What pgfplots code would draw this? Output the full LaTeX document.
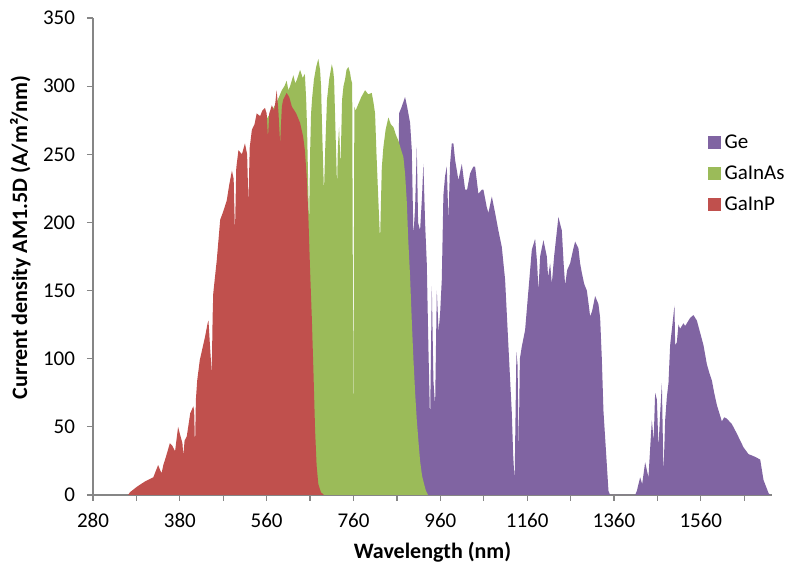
\documentclass[border=0pt]{standalone}
\usepackage{fontspec}
\setmainfont{Carlito}
\usepackage{pgfplots}
\pgfplotsset{compat=1.18}
\definecolor{geC}{HTML}{8064A2}
\definecolor{gaasC}{HTML}{9BBB59}
\definecolor{gapC}{HTML}{C0504D}
\definecolor{axC}{HTML}{868686}
\begin{document}
\begin{tikzpicture}
\path[use as bounding box] (-46.5pt,-35pt) rectangle (348.5pt,247.5pt);
\begin{axis}[
  at={(0pt,0pt)}, anchor=south west,
  scale only axis, width=339.5pt, height=238.5pt,
  xmin=0, xmax=1564, ymin=0, ymax=350,
  axis x line*=bottom, axis y line*=left,
  axis line style={draw=axC, line width=0.6pt, -},
  tick style={draw=axC, line width=0.6pt},
  tick align=outside, major tick length=3pt,
  xtick={0,100,...,1500},
  xticklabels={280,,380,,560,,760,,960,,1160,,1360,,1560,},
  ytick={0,50,...,350},
  /pgf/number format/assume math mode=true,
  ticklabel style={font=\fontsize{10.5}{12}\selectfont, text=black},
  xticklabel style={yshift=-2.5pt},
  yticklabel style={xshift=-2.5pt},
  xlabel={\textbf{Wavelength (nm)}},
  ylabel={\textbf{Current density AM1.5D (A/m²/nm)}},
  label style={font=\fontsize{11}{13}\selectfont},
  xlabel style={at={(axis description cs:0.5,0)}, anchor=center, yshift=-28.5pt},
  ylabel style={at={(axis description cs:-0.107,0.54)}, anchor=center},
  legend style={at={(rel axis cs:0.905,0.765)}, anchor=north west, draw=none, fill=none,
    font=\fontsize{10.5}{12}\selectfont, row sep=3.2pt, inner sep=0pt},
  legend cell align=left,
  legend image code/.code={\fill[#1] (0pt,-3.1pt) rectangle (6.3pt,3.2pt);},
]
\addplot[fill=geC, draw=none] coordinates {
(698,0)(705,280)(711.2,285)(718.8,292)(723.5,285)(730.4,273)(734.3,253)(738,190)(741.9,211)(745.8,255)(748.8,200)(753.4,194)(758,220)(761,243)(764.9,200)(768.8,170)(772.5,109)(776.4,53)(780.4,153)(784.1,84)(788,65)(791.9,150)(796,120)(799.5,133)(803.4,158)(807.1,220)(811,234)(814.9,241)(818.6,202)(822.5,243)(826.4,258)(830.1,258)(834,246)(841.7,231)(849.5,243)(857.1,224)(861.7,224)(868.6,236)(876.2,241)(880.1,241)(887.7,221)(895.6,224)(899.3,224)(907.1,211)(910.8,207)(918.6,219)(926.2,207)(933.8,194)(941.6,182)(949.2,158)(956.9,109)(964.7,60)(967.7,30)(971.1,10)(975.3,105)(978,95)(980.4,31)(983.3,100)(987.7,109)(995.3,121)(1002.9,150)(1010.8,180)(1018.4,188)(1023,170)(1026,150)(1029.9,175)(1037.5,187)(1045.3,175)(1048.3,160)(1052.9,170)(1056.8,155)(1062.1,175)(1072,204)(1079.9,194)(1084,170)(1087.5,154)(1092.1,165)(1099,170)(1105.9,180)(1110.5,186)(1118.1,181)(1122,170)(1126,163)(1131.3,155)(1137.5,150)(1141.6,140)(1145.1,131)(1149.7,135)(1156.6,146)(1164.2,140)(1168.1,130)(1172,100)(1175.7,62)(1182,30)(1187.3,3)(1191.2,0)(1248.8,0)(1252.7,3)(1260.3,13)(1264.9,8)(1271.8,24)(1279.4,13)(1287.2,55)(1291.4,40)(1294.8,75)(1298.8,70)(1302.5,35)(1306.4,60)(1310.3,82)(1314,15)(1317.9,55)(1321.8,72)(1325.5,82)(1329.4,110)(1335.6,128)(1339.3,139)(1340.9,110)(1344.8,112)(1348.5,125)(1352.4,122)(1360,126)(1364,124)(1375.5,130)(1383.1,132)(1390.9,128)(1398.5,119)(1406.1,110)(1413.9,96)(1419.3,90)(1425.5,84)(1430.8,75)(1437,66)(1448.5,54)(1453.8,57)(1460,56)(1471.6,52)(1483.1,45)(1490.7,40)(1498.3,35)(1509.8,30)(1525.2,28)(1536.8,26)(1544.4,11)(1555.9,1.5)(1559.8,0)
} \closedcycle;
\addlegendentry{Ge}
\addplot[fill=gaasC, draw=none] coordinates {
(380,0)(389,270)(408,280)(423,288)(435,297)(441,300)(446,304)(450,297)(454,300)(461.5,308)(466,302)(470,305)(477,312)(483,306)(488,309)(491,290)(493,270)(497.7,197)(500,250)(502.3,280)(505,292)(509,305)(514,314)(519,320)(523,312)(525.3,300)(528,265)(532,222)(535,255)(539,290)(544,305)(550,316)(553,312)(555.3,305)(559,262)(562.2,226)(564,255)(566.8,270)(570.2,241)(573.7,290)(577,300)(580.6,305)(584,312)(588.2,314)(592,310)(594.4,305)(597,302)(599.7,40)(602,285)(604.8,282)(611.3,287)(618,292)(626.7,297)(634,294)(642.1,295)(646,288)(649.7,280)(653,250)(657.3,216)(661.2,187)(665.2,240)(668.8,255)(674,268)(680.4,277)(686,272)(691.9,270)(698,264)(703.4,260)(709,254)(714.9,248)(719,235)(722.8,215)(726,188)(730.4,160)(734,130)(738,100)(742,75)(745.8,55)(750,38)(753.4,25)(758,14)(762.6,8)(767,3)(771.8,0)
} \closedcycle;
\addlegendentry{GaInAs}
\addplot[fill=gapC, draw=none] coordinates {
(81,0)(85,2)(101,6)(120,10)(139,13)(150,22)(155,18)(158,16)(162,22)(168,28)(177,38)(183,36)(189,32)(196,50)(200,45)(206,38)(208,29)(211,40)(216,43)(224,60)(231,65)(233,62)(235,34)(237,70)(240,84)(246,99)(258,116)(264,126)(266,128)(269,112)(273.5,89)(275.5,130)(277,148)(285,172)(293,202)(300,208)(308,216)(314,228)(320,238)(324,232)(327,192)(330,240)(335,253)(343,250)(350,258)(355,250)(358,214)(361,255)(366,268)(372,272)(377,280)(385,278)(390,282)(396,284)(400,280)(403,262)(406,280)(412,286)(417,282)(420,288)(423,297)(427,282)(431,258)(435,285)(438,290)(446,295)(452,292)(458,285)(468,280)(477,273)(484,263)(488,253)(492,235)(496,205)(500,165)(504,130)(508,88)(511.5,48)(515,22)(519,8)(525,2)(532,0)
} \closedcycle;
\addlegendentry{GaInP}
\end{axis}
\end{tikzpicture}
\end{document}
